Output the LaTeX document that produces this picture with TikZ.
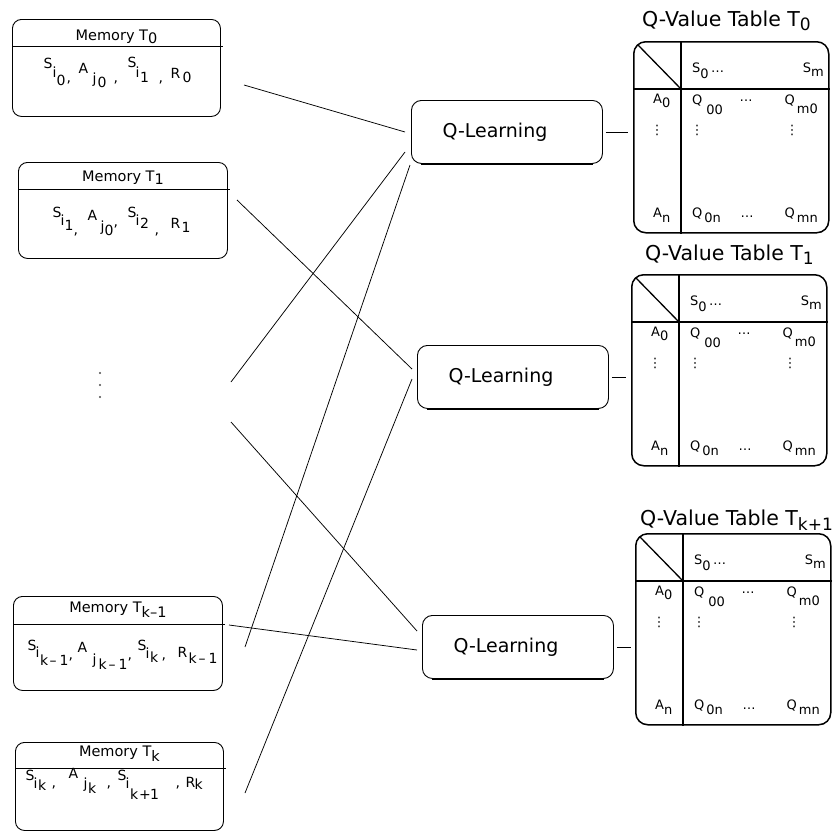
\documentclass[tikz,border=0pt]{standalone}
\usepackage{fontspec}
\setmainfont{DejaVu Sans}
\usetikzlibrary{calc}
\newcommand{\rb}[2]{\raisebox{#1}[0pt][0pt]{#2}}
\newcommand{\gl}[3]{\rlap{\hspace*{#1}\raisebox{#2}{#3}}}
\newcommand{\qtab}[2]{%
 \node[tabbox, anchor=north west] (#1) at (#2) {};
 \draw[tabline] ($(#1.north west)+(48,0)$) -- ($(#1.south west)+(48,0)$);
 \draw[tabline] ($(#1.north west)+(0,48)$) -- ($(#1.north east)+(0,48)$);
 \draw[line width=1.3pt] ($(#1.north west)+(5,4)$) -- ($(#1.north west)+(48,48)$);
 \node[tabtxt, anchor=base west] (#1hs) at ($(#1.north west)+(59,31)$) {S\rb{-6pt}{0}};
 \node[tabtxt, anchor=base west] (#1hd) at ($(#1.north west)+(78,31)$) {…};
 \node[tabtxt, anchor=base east] (#1hm) at ($(#1.north west)+(191,31)$) {S\rb{-4pt}{m}};
 \node[tabtxt, anchor=base west] (#1a0) at ($(#1.north west)+(20,62)$) {A\rb{-4pt}{0}};
 \node[tabtxt, anchor=base] (#1v1) at ($(#1.north west)+(24,93)$) {⋮};
 \node[tabtxt, anchor=base west] (#1q00) at ($(#1.north west)+(59,63)$) {Q\hspace{4pt}\rb{-10pt}{00}};
 \node[tabtxt, anchor=base] (#1d1) at ($(#1.north west)+(113,60)$) {…};
 \node[tabtxt, anchor=base east] (#1qm0) at ($(#1.north west)+(185,63)$) {Q\hspace{2pt}\rb{-9pt}{m0}};
 \node[tabtxt, anchor=base] (#1v2) at ($(#1.north west)+(64,93)$) {⋮};
 \node[tabtxt, anchor=base] (#1v3) at ($(#1.north west)+(159,93)$) {⋮};
 \node[tabtxt, anchor=base west] (#1an) at ($(#1.north west)+(20,176)$) {A\rb{-5pt}{n}};
 \node[tabtxt, anchor=base west] (#1q0n) at ($(#1.north west)+(59,176)$) {Q\hspace{2pt}\rb{-5pt}{0n}};
 \node[tabtxt, anchor=base] (#1d2) at ($(#1.north west)+(114,176)$) {…};
 \node[tabtxt, anchor=base east] (#1qmn) at ($(#1.north west)+(185,176)$) {Q\hspace{2pt}\rb{-5pt}{mn}};
}
\begin{document}
\begin{tikzpicture}[x=1pt,y=-1pt,
  conn/.style={line width=0.75pt},
  divl/.style={line width=0.9pt},
  membox/.style={draw, line width=0.9pt, rounded corners=9pt, inner sep=0pt},
  memtitle/.style={font=\fontsize{14.5}{16}\selectfont, inner sep=0pt},
  memtext/.style={font=\fontsize{14}{16}\selectfont, inner sep=0pt},
  qlbox/.style={draw, line width=0.9pt, rounded corners=10pt, minimum width=191pt, minimum height=63pt, inner sep=0pt, font=\fontsize{19}{22}\selectfont},
  shadowl/.style={line width=2pt},
  tabbox/.style={draw, line width=1.5pt, rounded corners=12pt, minimum width=195pt, minimum height=191pt, inner sep=0pt},
  tabline/.style={line width=2.2pt},
  tabtxt/.style={font=\fontsize{13}{15}\selectfont, inner sep=0pt},
  tabtitle/.style={font=\fontsize{20.5}{23}\selectfont, inner sep=0pt},
  dotc/.style={circle, fill=black!70, inner sep=0pt, minimum size=2.2pt}
]
\fill[white] (0,0) rectangle (833,835);
\useasboundingbox (0,0) rectangle (833,835);

% Memory T0
\node[membox, minimum width=208pt, minimum height=97pt, anchor=north west] (m0) at (12,19) {};
\draw[divl] ($(m0.north west)+(0,27)$) -- ($(m0.north east)+(2,27)$);
\node[memtitle, anchor=base] (m0t) at ($(m0.north)+(0,21)$) {Memory T\rb{-3pt}{0}};
\node[memtext, anchor=base west] (m0c) at (43,82) {\gl{0pt}{14pt}{S}\gl{9pt}{5pt}{i}\gl{13pt}{-3pt}{0}\gl{23pt}{0pt}{,}\gl{35pt}{9pt}{A}\gl{49pt}{-1pt}{j}\gl{54pt}{-5pt}{0}\gl{70pt}{0pt}{,}\gl{84pt}{15pt}{S}\gl{92pt}{5pt}{i}\gl{96.5pt}{0pt}{1}\gl{115pt}{0pt}{,}\gl{127pt}{4pt}{R}\gl{139pt}{0pt}{0}};

% Memory T1
\node[membox, minimum width=209pt, minimum height=96pt, anchor=north west] (m1) at (18,162) {};
\draw[divl] ($(m1.north west)+(0,27)$) -- ($(m1.north east)+(2,27)$);
\node[memtitle, anchor=base] (m1t) at ($(m1.north)+(0,19)$) {Memory T\rb{-3pt}{1}};
\node[memtext, anchor=base west] (m1c) at (52,234) {\gl{0pt}{17pt}{S}\gl{8pt}{9pt}{i}\gl{12pt}{4pt}{1}\gl{21pt}{0pt}{,}\gl{35pt}{14pt}{A}\gl{48pt}{3pt}{j}\gl{52pt}{-1pt}{0}\gl{61pt}{8pt}{,}\gl{75pt}{17pt}{S}\gl{83pt}{9pt}{i}\gl{87.5pt}{6pt}{2}\gl{102pt}{0pt}{,}\gl{118pt}{6pt}{R}\gl{129pt}{2pt}{1}};

% Memory Tk-1
\node[membox, minimum width=209pt, minimum height=94pt, anchor=north west] (m2) at (13,596) {};
\draw[divl] ($(m2.north west)+(0,28)$) -- ($(m2.north east)+(2,28)$);
\node[memtitle, anchor=base] (m2t) at ($(m2.north)+(0,16)$) {Memory T\rb{-5pt}{k–1}};
\node[memtext, anchor=base west] (m2c) at (27,659) {\gl{0pt}{9pt}{S}\gl{8pt}{2pt}{i}\gl{12.5pt}{-6pt}{k}\gl{22pt}{-6pt}{–}\gl{32pt}{-6pt}{1}\gl{41pt}{0pt}{,}\gl{50pt}{7pt}{A}\gl{65pt}{-5pt}{j}\gl{71pt}{-10pt}{k}\gl{81pt}{-10pt}{–}\gl{91pt}{-10pt}{1}\gl{100pt}{0pt}{,}\gl{110pt}{9pt}{S}\gl{118pt}{1pt}{i}\gl{122.5pt}{-3pt}{k}\gl{134pt}{0pt}{,}\gl{150pt}{2pt}{R}\gl{161pt}{-4pt}{k}\gl{171pt}{-4pt}{–}\gl{181pt}{-4pt}{1}};

% Memory Tk
\node[membox, minimum width=208pt, minimum height=88pt, anchor=north west] (m3) at (15,742) {};
\draw[divl] ($(m3.north west)+(0,26)$) -- ($(m3.north east)+(2,26)$);
\node[memtitle, anchor=base] (m3t) at ($(m3.north)+(0,14)$) {Memory T\rb{-5pt}{k}};
\node[memtext, anchor=base west] (m3c) at (25,787) {\gl{0pt}{7pt}{S}\gl{8pt}{-1pt}{i}\gl{12.5pt}{-3pt}{k}\gl{26pt}{0pt}{,}\gl{43pt}{9pt}{A}\gl{58pt}{-1pt}{j}\gl{62.5pt}{-6pt}{k}\gl{81pt}{0pt}{,}\gl{92pt}{7pt}{S}\gl{100pt}{-1pt}{i}\gl{104.5pt}{-12pt}{k}\gl{113.5pt}{-12pt}{+}\gl{124.5pt}{-12pt}{1}\gl{150pt}{0pt}{,}\gl{160pt}{0pt}{R}\gl{169pt}{-2pt}{k}};

% vertical dots
\node[dotc] (p1) at (100,373) {};
\node[dotc] (p2) at (100,385) {};
\node[dotc] (p3) at (100,397) {};

% Q-Learning boxes
\node[qlbox, anchor=north west] (ql1) at (411,100) {Q-Learning\hspace*{24pt}};
\draw[shadowl] ($(ql1.south west)+(10,0)$) -- ($(ql1.south east)+(-10,0)$);
\node[qlbox, anchor=north west] (ql2) at (417,345) {Q-Learning\hspace*{24pt}};
\draw[shadowl] ($(ql2.south west)+(10,0)$) -- ($(ql2.south east)+(-10,0)$);
\node[qlbox, anchor=north west] (ql3) at (422,615) {Q-Learning\hspace*{24pt}};
\draw[shadowl] ($(ql3.south west)+(10,0)$) -- ($(ql3.south east)+(-10,0)$);

% Tables
\qtab{ta}{633,41}
\qtab{tb}{631,274}
\qtab{tc}{635,533}
\node[tabtitle, anchor=base west] (tat) at (642,27) {Q-Value Table T\rb{-4pt}{\fontsize{17}{19}\selectfont 0}};
\node[tabtitle, anchor=base west] (tbt) at (645,260) {Q-Value Table T\rb{-4pt}{\fontsize{17}{19}\selectfont 1}};
\node[tabtitle, anchor=base west] (tct) at (640,525) {Q-Value Table T\rb{-5pt}{\fontsize{17}{19}\selectfont k+1}};

% QL -> tables
\draw[conn] ($(ql1.east)+(3,0)$) -- ($(ta.west |- ql1.east)+(-5,0)$);
\draw[conn] ($(ql2.east)+(3,0)$) -- ($(tb.west |- ql2.east)+(-5,0)$);
\draw[conn] ($(ql3.east)+(3,0)$) -- ($(tc.west |- ql3.east)+(-4,0)$);

% crossing connectors
\coordinate (a1) at (244,85);  \coordinate (a2) at (405,132);
\coordinate (b1) at (405,152); \coordinate (b2) at (231,382);
\coordinate (c1) at (410,165); \coordinate (c2) at (245,647);
\coordinate (d1) at (237,200); \coordinate (d2) at (412,369);
\coordinate (e1) at (412,379); \coordinate (e2) at (245,793);
\coordinate (f1) at (231,422); \coordinate (f2) at (417,631);
\coordinate (g1) at (229,625); \coordinate (g2) at (417,650);
\draw[conn] (a1) -- (a2);
\draw[conn] (b1) -- (b2);
\draw[conn] (c1) -- (c2);
\draw[conn] (d1) -- (d2);
\draw[conn] (e1) -- (e2);
\draw[conn] (f1) -- (f2);
\draw[conn] (g1) -- (g2);
\end{tikzpicture}
\end{document}
